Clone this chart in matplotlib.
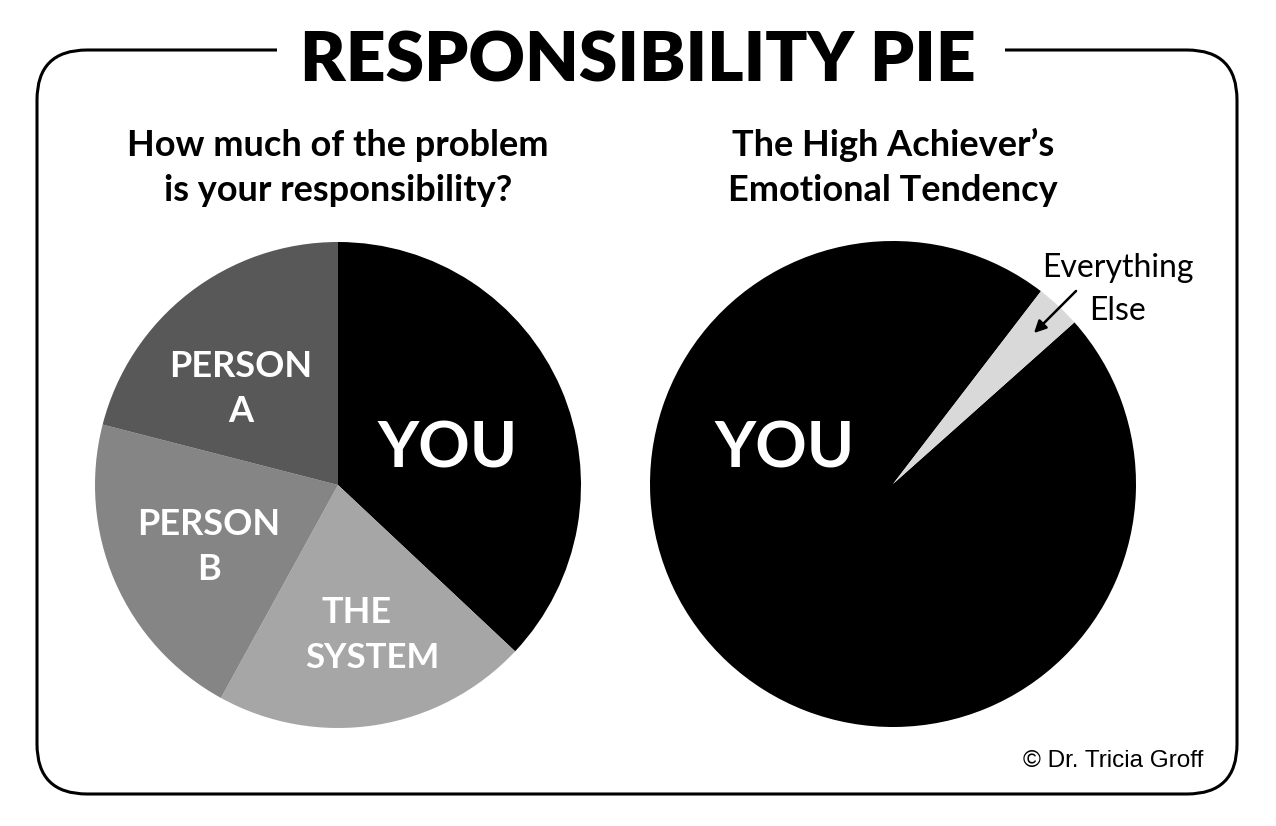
import matplotlib.pyplot as plt
from matplotlib.patches import FancyBboxPatch, Rectangle

# chart values
left_labels = ["YOU", "THE SYSTEM", "PERSON B", "PERSON A"]
left_values = [37, 21, 21, 21]
left_colors = ["#000000", "#a6a6a6", "#858585", "#585858"]

right_labels = ["YOU", "Everything Else"]
right_values = [97, 3]
right_colors = ["#000000", "#d9d9d9"]

W, H = 1276, 826
BOLD = dict(family=["Lato", "DejaVu Sans"], fontweight="bold")


def y(v):
    # image row -> axes coordinate (y up)
    return H - v


fig = plt.figure(figsize=(W / 100, H / 100), dpi=100)
ax = fig.add_axes([0, 0, 1, 1])

# rounded frame, broken at the top by the title
frame = FancyBboxPatch((37, y(794)), 1200, 744, boxstyle="round,pad=0,rounding_size=50",
                       fc="none", ec="black", lw=2.2, zorder=1)
ax.add_patch(frame)
ax.add_patch(Rectangle((277, y(70)), 728, 40, fc="white", ec="none", zorder=2))

ax.text(638, y(82), "RESPONSIBILITY PIE", ha="center", va="baseline",
        fontsize=50, family=["Lato", "DejaVu Sans"], fontweight="heavy", zorder=3)

# subtitles
ax.text(338, y(156), "How much of the problem", ha="center", va="baseline", fontsize=26, **BOLD)
ax.text(338, y(201), "is your responsibility?", ha="center", va="baseline", fontsize=26, **BOLD)
ax.text(893, y(156), "The High Achiever\u2019s", ha="center", va="baseline", fontsize=26, **BOLD)
ax.text(893, y(201), "Emotional Tendency", ha="center", va="baseline", fontsize=26, **BOLD)

# left pie
ax.pie(left_values, colors=left_colors, startangle=90, counterclock=False,
       center=(338, y(485)), radius=243, wedgeprops=dict(linewidth=0), frame=True)

# right pie
ax.pie(right_values, colors=right_colors, startangle=52.5, counterclock=True,
       center=(893, y(484)), radius=243, wedgeprops=dict(linewidth=0), frame=True)

# slice labels
ax.text(448, y(467), "YOU", ha="center", va="baseline", fontsize=46, color="white", **BOLD)
ax.text(241, y(377), "PERSON", ha="center", va="baseline", fontsize=26, color="white", **BOLD)
ax.text(241, y(422), "A", ha="center", va="baseline", fontsize=26, color="white", **BOLD)
ax.text(209, y(535), "PERSON", ha="center", va="baseline", fontsize=26, color="white", **BOLD)
ax.text(209, y(580), "B", ha="center", va="baseline", fontsize=26, color="white", **BOLD)
ax.text(357, y(623), "THE", ha="center", va="baseline", fontsize=26, color="white", **BOLD)
ax.text(372, y(668), "SYSTEM", ha="center", va="baseline", fontsize=25, color="white", **BOLD)
ax.text(785, y(467), "YOU", ha="center", va="baseline", fontsize=46, color="white", **BOLD)

# annotation for the thin slice
ax.text(1118, y(277), "Everything", ha="center", va="baseline", fontsize=23,
        family=["Lato", "DejaVu Sans"])
ax.text(1118, y(320), "Else", ha="center", va="baseline", fontsize=23,
        family=["Lato", "DejaVu Sans"])
ax.annotate("", xy=(1032, y(335)), xytext=(1078, y(289)),
            arrowprops=dict(arrowstyle="-|>", color="black", lw=1.8, mutation_scale=18))

ax.text(1203, y(767), "\u00a9 Dr. Tricia Groff", ha="right", va="baseline", fontsize=17.5,
        family=["Liberation Sans", "DejaVu Sans"])

ax.set_xlim(0, W)
ax.set_ylim(0, H)
ax.set_aspect("equal")
ax.axis("off")

fig.savefig("out.png", dpi=100, facecolor="white")
